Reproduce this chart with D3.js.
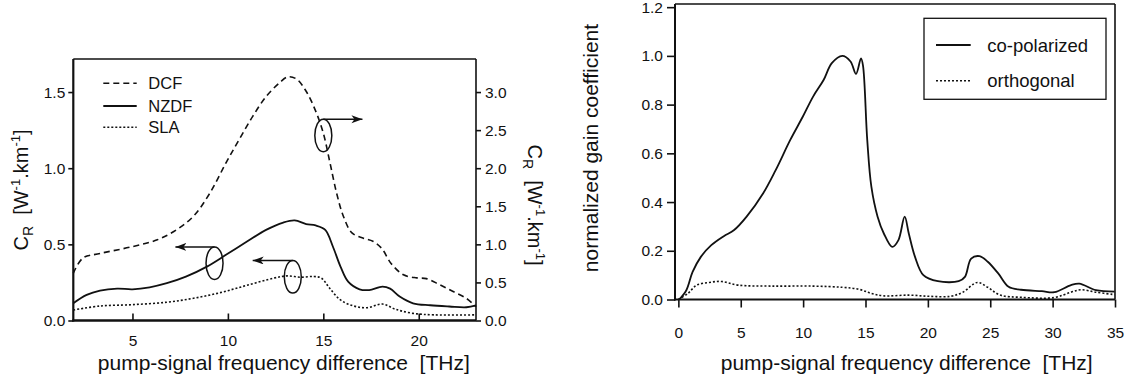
<!DOCTYPE html>
<html><head><meta charset="utf-8">
<script src="https://cdn.jsdelivr.net/npm/d3@7"></script>
<style>
body{margin:0;background:#fff;}
svg{display:block;font-family:"Liberation Sans",Arial,Helvetica,sans-serif;}
</style></head><body>
<svg id="c" width="1131" height="390"></svg>
<script>
// ---------- Left panel data (C_R vs frequency) ----------
const leftXTicks = [5, 10, 15, 20];
const leftYTicks = [0, 0.5, 1.0, 1.5];
const leftYRightTicks = [0, 0.5, 1.0, 1.5, 2.0, 2.5, 3.0];
const leftLegend = ["DCF", "NZDF", "SLA"];

// DCF is read against the right axis
const dcfFreq  = [1.9, 2.4, 3.3, 5.0, 6.3, 7.3, 8.2, 9.05, 9.9, 10.6, 11.3, 12.0, 12.7, 13.15, 13.6, 14.1, 14.6, 15.0, 15.35, 15.7, 16.05, 16.5, 17.1, 17.6, 18.05, 18.55, 19.2, 19.9, 20.4, 21.1, 21.8, 22.5, 23.0];
const dcfValue = [0.62, 0.82, 0.88, 0.97, 1.06, 1.19, 1.37, 1.67, 2.07, 2.38, 2.68, 2.94, 3.12, 3.20, 3.17, 3.01, 2.75, 2.46, 2.07, 1.67, 1.37, 1.15, 1.08, 1.04, 0.95, 0.75, 0.60, 0.56, 0.55, 0.47, 0.38, 0.29, 0.18];

// NZDF and SLA are read against the left axis
const nzdfFreq  = [1.9, 2.6, 3.3, 4.2, 5.0, 5.9, 6.8, 7.8, 8.9, 9.9, 11.0, 12.0, 12.9, 13.5, 14.1, 14.6, 15.1, 15.5, 15.9, 16.3, 16.9, 17.4, 18.1, 18.5, 19.0, 19.7, 20.6, 21.6, 22.5, 23.0];
const nzdfValue = [0.113, 0.168, 0.196, 0.209, 0.205, 0.218, 0.245, 0.288, 0.354, 0.431, 0.518, 0.595, 0.643, 0.657, 0.633, 0.624, 0.595, 0.486, 0.354, 0.255, 0.205, 0.200, 0.222, 0.209, 0.157, 0.113, 0.100, 0.092, 0.087, 0.100];

const slaFreq  = [1.9, 3.3, 5.0, 6.8, 8.2, 9.6, 11.0, 12.4, 13.1, 13.8, 14.5, 14.9, 15.35, 15.9, 16.6, 17.3, 18.1, 18.8, 19.7, 20.8, 23.0];
const slaValue = [0.069, 0.095, 0.104, 0.120, 0.146, 0.183, 0.231, 0.278, 0.293, 0.284, 0.289, 0.278, 0.209, 0.135, 0.095, 0.084, 0.108, 0.073, 0.047, 0.037, 0.037];

// annotation ellipses: centre frequency, centre value (left-axis units), arrow tip frequency
const annFreq  = [15.0, 9.3, 13.4];
const annValue = [1.215, 0.376, 0.287];
const annArrow = [17.05, 7.25, 11.3];

// ---------- Right panel data (normalized gain) ----------
const rightXTicks = [0, 5, 10, 15, 20, 25, 30, 35];
const rightYTicks = [0, 0.2, 0.4, 0.6, 0.8, 1.0, 1.2];
const rightLegend = ["co-polarized", "orthogonal"];

const coFreq  = [0.07, 0.64, 1.14, 1.8, 2.64, 3.64, 4.47, 5.47, 6.8, 7.8, 8.97, 9.97, 10.8, 11.64, 12.3, 13.14, 13.8, 14.24, 14.64, 14.8, 15.14, 15.47, 15.97, 16.47, 17.14, 17.64, 18.14, 18.47, 18.97, 19.64, 20.8, 22.47, 22.97, 23.47, 24.14, 24.8, 25.64, 26.47, 27.47, 29.14, 30.14, 31.47, 32.14, 33.47, 34.97];
const coValue = [0.0, 0.038, 0.113, 0.175, 0.223, 0.26, 0.285, 0.34, 0.436, 0.531, 0.655, 0.75, 0.833, 0.901, 0.97, 1.0, 0.977, 0.926, 0.99, 0.96, 0.655, 0.463, 0.34, 0.271, 0.216, 0.244, 0.34, 0.271, 0.175, 0.10, 0.075, 0.075, 0.093, 0.168, 0.178, 0.155, 0.107, 0.052, 0.04, 0.034, 0.03, 0.059, 0.065, 0.038, 0.032];

const orFreq  = [0.0, 0.77, 1.47, 2.47, 3.47, 4.8, 7.47, 10.8, 13.14, 14.47, 15.47, 16.47, 18.47, 20.14, 21.8, 22.8, 23.97, 24.8, 25.8, 27.47, 30.14, 31.47, 32.3, 33.47, 34.97];
const orValue = [0.0, 0.025, 0.059, 0.07, 0.074, 0.059, 0.055, 0.055, 0.05, 0.042, 0.025, 0.015, 0.018, 0.013, 0.013, 0.03, 0.07, 0.05, 0.018, 0.009, 0.008, 0.03, 0.04, 0.03, 0.02];

const xTitle = "pump-signal frequency difference\u00a0\u00a0[THz]";

// ---------- drawing ----------
const svg = d3.select("#c");
const ink = "#111";
const zip = (a, b) => a.map((v, i) => [v, b[i]]);

const defs = svg.append("defs");
defs.append("marker").attr("id", "arr")
  .attr("markerUnits", "userSpaceOnUse")
  .attr("markerWidth", 12).attr("markerHeight", 10)
  .attr("refX", 11).attr("refY", 4).attr("orient", "auto")
  .append("path").attr("d", "M0,0 L11,4 L0,8 L3,4 Z").attr("fill", ink);

function styleAxis(g, fs) {
  g.select(".domain").remove();
  g.selectAll(".tick line").attr("stroke", ink).attr("stroke-width", 1.6);
  g.selectAll(".tick text").attr("fill", ink).style("font-size", fs + "px")
    .style("font-family", '"Liberation Sans",Arial,Helvetica,sans-serif');
}

// ===== LEFT PANEL =====
const L = {x0: 73.3, x1: 476, y0: 59, y1: 320.5};
const xL  = d3.scaleLinear().domain([1.9, 23]).range([L.x0, L.x1]);
const yL  = d3.scaleLinear().domain([0, 1.717]).range([L.y1, L.y0]);
const yLR = d3.scaleLinear().domain([0, 3.434]).range([L.y1, L.y0]);

const gL = svg.append("g");
gL.append("g").attr("transform", `translate(0,${L.y1})`)
  .call(d3.axisBottom(xL).tickValues(leftXTicks).tickSize(-7).tickPadding(14).tickFormat(d3.format("d")))
  .call(g => styleAxis(g, 15.5));
gL.append("g").attr("transform", `translate(${L.x0},0)`)
  .call(d3.axisLeft(yL).tickValues(leftYTicks).tickSize(5).tickPadding(3).tickFormat(d3.format(".1f")))
  .call(g => styleAxis(g, 15.5));
gL.append("g").attr("transform", `translate(${L.x1},0)`)
  .call(d3.axisRight(yLR).tickValues(leftYRightTicks).tickSize(5).tickPadding(4).tickFormat(d3.format(".1f")))
  .call(g => styleAxis(g, 15.5));

// frame
gL.append("line").attr("x1", L.x0).attr("x2", L.x1).attr("y1", L.y0).attr("y2", L.y0).attr("stroke", ink).attr("stroke-width", 1.4);
gL.append("line").attr("x1", L.x1).attr("x2", L.x1).attr("y1", L.y0).attr("y2", L.y1).attr("stroke", ink).attr("stroke-width", 1.6);
gL.append("line").attr("x1", L.x0).attr("x2", L.x0).attr("y1", L.y0).attr("y2", L.y1 + 1).attr("stroke", ink).attr("stroke-width", 2.2);
gL.append("line").attr("x1", L.x0 - 1).attr("x2", L.x1).attr("y1", L.y1).attr("y2", L.y1).attr("stroke", ink).attr("stroke-width", 2.4);

const curve = d3.curveCatmullRom.alpha(0.5);
const lineLR = d3.line().x(d => xL(d[0])).y(d => yLR(d[1])).curve(curve);
const lineL  = d3.line().x(d => xL(d[0])).y(d => yL(d[1])).curve(curve);

gL.append("path").attr("d", lineLR(zip(dcfFreq, dcfValue))).attr("fill", "none")
  .attr("stroke", ink).attr("stroke-width", 1.6).attr("stroke-dasharray", "6,4");
gL.append("path").attr("d", lineL(zip(nzdfFreq, nzdfValue))).attr("fill", "none")
  .attr("stroke", ink).attr("stroke-width", 1.8);
gL.append("path").attr("d", lineL(zip(slaFreq, slaValue))).attr("fill", "none")
  .attr("stroke", ink).attr("stroke-width", 1.6).attr("stroke-dasharray", "2,2");

// annotations
const RX = 8.5, RY = 16.3;
annFreq.forEach((f, i) => {
  const cx = xL(f), cy = yL(annValue[i]);
  gL.append("ellipse").attr("cx", cx).attr("cy", cy).attr("rx", RX).attr("ry", RY)
    .attr("fill", "none").attr("stroke", ink).attr("stroke-width", 1.5);
  gL.append("line").attr("x1", cx).attr("y1", cy - RY).attr("x2", xL(annArrow[i])).attr("y2", cy - RY)
    .attr("stroke", ink).attr("stroke-width", 1.5).attr("marker-end", "url(#arr)");
});

// legend
const legDash = ["6,4", null, "2,2"];
const legW = [1.6, 1.8, 1.6];
const legY = [83.3, 106, 127.3];
leftLegend.forEach((name, i) => {
  const l = gL.append("line").attr("x1", 103.3).attr("x2", 136.7).attr("y1", legY[i]).attr("y2", legY[i])
    .attr("stroke", ink).attr("stroke-width", legW[i]);
  if (legDash[i]) l.attr("stroke-dasharray", legDash[i]);
  gL.append("text").attr("x", 148.3).attr("y", legY[i] + 6).attr("fill", ink)
    .style("font-size", "16.5px").text(name);
});

// axis titles
gL.append("text").attr("x", 283.8).attr("y", 370).attr("text-anchor", "middle").attr("fill", ink)
  .style("font-size", "21px").text(xTitle);

function crLabel(sel) {
  sel.append("tspan").text("C");
  sel.append("tspan").attr("dy", 5).style("font-size", "14px").text("R");
  sel.append("tspan").attr("dy", -5).text("\u00a0\u00a0[W");
  sel.append("tspan").attr("dy", -8).style("font-size", "13px").text("-1");
  sel.append("tspan").attr("dy", 8).text(".km");
  sel.append("tspan").attr("dy", -8).style("font-size", "13px").text("-1");
  sel.append("tspan").attr("dy", 8).text("]");
}
gL.append("text").attr("transform", "translate(28,190) rotate(-90)").attr("text-anchor", "middle")
  .attr("fill", ink).style("font-size", "20px").call(crLabel);
gL.append("text").attr("transform", "translate(528,205) rotate(90)").attr("text-anchor", "middle")
  .attr("fill", ink).style("font-size", "20px").call(crLabel);

// ===== RIGHT PANEL =====
const R = {x0: 675, x1: 1115, y0: 4, y1: 299.5};
const xR = d3.scaleLinear().domain([-0.27, 35]).range([R.x0, R.x1]);
const yR = d3.scaleLinear().domain([0, 1.213]).range([R.y1, R.y0]);

const gR = svg.append("g");
gR.append("g").attr("transform", `translate(0,${R.y1})`)
  .call(d3.axisBottom(xR).tickValues(rightXTicks).tickSize(8).tickPadding(19).tickFormat(d3.format("d")))
  .call(g => styleAxis(g, 15.5));
gR.append("g").attr("transform", `translate(${R.x0},0)`)
  .call(d3.axisLeft(yR).tickValues(rightYTicks).tickSize(8).tickPadding(4).tickFormat(d3.format(".1f")))
  .call(g => styleAxis(g, 15.5));

gR.append("line").attr("x1", R.x0).attr("x2", R.x1).attr("y1", R.y0).attr("y2", R.y0).attr("stroke", ink).attr("stroke-width", 1.5);
gR.append("line").attr("x1", R.x1).attr("x2", R.x1).attr("y1", R.y0).attr("y2", R.y1).attr("stroke", ink).attr("stroke-width", 1.6);
gR.append("line").attr("x1", R.x0).attr("x2", R.x0).attr("y1", R.y0).attr("y2", R.y1 + 1).attr("stroke", ink).attr("stroke-width", 2);
gR.append("line").attr("x1", R.x0 - 1).attr("x2", R.x1).attr("y1", R.y1).attr("y2", R.y1).attr("stroke", ink).attr("stroke-width", 2.2);

const lineR = d3.line().x(d => xR(d[0])).y(d => yR(d[1])).curve(curve);
gR.append("path").attr("d", lineR(zip(coFreq, coValue))).attr("fill", "none")
  .attr("stroke", ink).attr("stroke-width", 1.8);
gR.append("path").attr("d", lineR(zip(orFreq, orValue))).attr("fill", "none")
  .attr("stroke", ink).attr("stroke-width", 1.6).attr("stroke-dasharray", "2,2");

// legend box
gR.append("rect").attr("x", 924).attr("y", 18.3).attr("width", 182).attr("height", 81)
  .attr("fill", "#fff").attr("stroke", ink).attr("stroke-width", 1.3);
const rLegY = [45, 80.7];
const rLegDash = [null, "2,2"];
rightLegend.forEach((name, i) => {
  const l = gR.append("line").attr("x1", 936).attr("x2", 970.7).attr("y1", rLegY[i]).attr("y2", rLegY[i])
    .attr("stroke", ink).attr("stroke-width", i ? 1.6 : 1.8);
  if (rLegDash[i]) l.attr("stroke-dasharray", rLegDash[i]);
  gR.append("text").attr("x", 987.3).attr("y", rLegY[i] + 6.5).attr("fill", ink)
    .style("font-size", "18.5px").text(name);
});

gR.append("text").attr("x", 906.7).attr("y", 370).attr("text-anchor", "middle").attr("fill", ink)
  .style("font-size", "21px").text(xTitle);
gR.append("text").attr("transform", "translate(598,148) rotate(-90)").attr("text-anchor", "middle")
  .attr("fill", ink).style("font-size", "21px").text("normalized gain coefficient");
</script>
</body></html>
